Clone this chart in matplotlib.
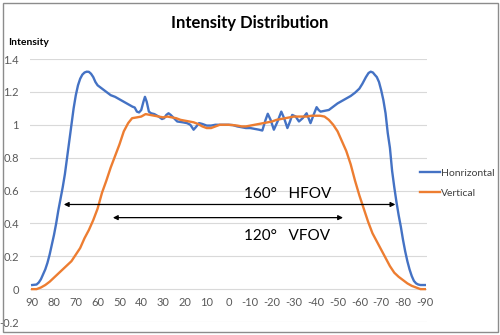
import matplotlib
matplotlib.use("Agg")
import matplotlib.pyplot as plt
from matplotlib.patches import Rectangle

plt.rcParams['font.family'] = ['Lato', 'DejaVu Sans']

# ---- data ----
h_angle = [90, 88, 87, 86, 85, 84, 83, 82, 81, 80, 79, 78, 77, 76, 75, 74, 73, 72, 71, 70,
           69, 68, 67, 66, 65, 64, 63, 62, 61, 60, 59, 58, 57, 56, 55, 54, 52, 50, 48, 46,
           44, 43, 42, 41, 40, 39, 38.3, 37.5, 36.5, 35.5, 34, 32, 30.5, 29.5, 28.5, 27.5,
           26.5, 25, 23.5, 21, 19, 17.5, 16, 15, 13.5, 12, 10, 8, 6, 4, 2, 0,
           -2, -4, -6, -8, -10, -12, -14, -15.5, -17, -18, -19.3, -20.8, -22.5, -24.2,
           -25.5, -27, -28.2, -29.2, -30.8, -32.3, -34, -35.8, -37.6, -39, -40.4, -41.3,
           -42.2, -44, -46, -48, -50, -52, -54, -56, -58, -60, -61.4, -63, -64.2, -65.2,
           -66.2, -67, -68, -69, -70, -71, -72, -73, -74, -75, -76, -77, -78, -79, -80,
           -81, -82, -83, -84, -85, -86, -87, -88, -90]
h_value = [0.025, 0.028, 0.04, 0.06, 0.09, 0.12, 0.16, 0.21, 0.27, 0.33, 0.40, 0.48, 0.55,
           0.62, 0.70, 0.80, 0.90, 1.00, 1.10, 1.18, 1.24, 1.28, 1.305, 1.318, 1.323, 1.322,
           1.31, 1.29, 1.26, 1.24, 1.23, 1.22, 1.21, 1.20, 1.19, 1.18, 1.17, 1.155, 1.14,
           1.125, 1.11, 1.105, 1.08, 1.075, 1.09, 1.14, 1.17, 1.14, 1.08, 1.07, 1.065, 1.05,
           1.035, 1.04, 1.06, 1.07, 1.06, 1.04, 1.02, 1.015, 1.01, 1.0, 0.97, 0.985, 1.01,
           1.005, 0.995, 0.995, 1.0, 1.0, 1.0, 1.0,
           0.998, 0.99, 0.985, 0.98, 0.98, 0.975, 0.97, 0.965, 1.03, 1.067, 1.03, 0.97, 1.02,
           1.08, 1.04, 0.98, 1.02, 1.06, 1.05, 1.02, 1.04, 1.07, 1.01, 1.06, 1.107, 1.09,
           1.08, 1.085, 1.09, 1.11, 1.13, 1.145, 1.16, 1.175, 1.195, 1.22, 1.25, 1.29, 1.315,
           1.323, 1.318, 1.305, 1.29, 1.26, 1.21, 1.15, 1.07, 0.95, 0.86, 0.72, 0.62, 0.53,
           0.45, 0.38, 0.30, 0.23, 0.17, 0.12, 0.08, 0.05, 0.035, 0.028, 0.025, 0.025]

v_angle = [90, 88, 87, 86, 84, 82, 80, 78, 76, 74, 72, 70, 68, 66, 64, 62, 60, 58, 56, 54,
           52, 50, 48, 46, 44.2, 42, 40, 38, 36, 34, 32, 30, 28, 26, 24, 22, 20, 18, 16, 14,
           12, 10, 8, 6, 4, 2, 0, -2, -4, -6, -8, -10, -12, -14, -16, -18, -20, -22, -24,
           -26, -28, -30, -32, -34, -36, -38, -40, -42, -44, -46, -48, -50, -52, -54, -56,
           -58, -60, -62, -64, -66, -68, -70, -72, -74, -76, -78, -80, -82, -84, -86, -88, -90]
v_value = [0.0, 0.0, 0.005, 0.01, 0.025, 0.045, 0.07, 0.095, 0.12, 0.145, 0.17, 0.21, 0.25,
           0.31, 0.36, 0.42, 0.49, 0.586, 0.66, 0.74, 0.81, 0.88, 0.96, 1.01, 1.04, 1.045,
           1.05, 1.065, 1.06, 1.055, 1.05, 1.045, 1.05, 1.045, 1.04, 1.03, 1.025, 1.02, 1.015,
           1.005, 0.99, 0.98, 0.98, 0.99, 1.0, 1.0, 1.0, 0.998, 0.995, 0.99, 0.99, 0.995, 1.0,
           1.005, 1.01, 1.015, 1.02, 1.03, 1.035, 1.04, 1.045, 1.05, 1.05, 1.05, 1.05, 1.055,
           1.055, 1.055, 1.05, 1.03, 1.0, 0.96, 0.90, 0.84, 0.76, 0.66, 0.57, 0.49, 0.41,
           0.34, 0.29, 0.24, 0.19, 0.14, 0.10, 0.075, 0.055, 0.035, 0.02, 0.01, 0.0, 0.0]

x_ticks = [90, 80, 70, 60, 50, 40, 30, 20, 10, 0, -10, -20, -30, -40, -50, -60, -70, -80, -90]
y_ticks = [-0.2, 0, 0.2, 0.4, 0.6, 0.8, 1, 1.2, 1.4]
y_ticklabels = ['-0.2', '0', '0.2', '0.4', '0.6', '0.8', '1', '1.2', '1.4']

hfov = (75.5, -76.5, 0.515)
vfov = (53, -52.5, 0.435)

# ---- figure ----
fig = plt.figure(figsize=(5, 3.35), dpi=100)
fig.patches.append(Rectangle((0.005, 0.008), 0.99, 0.984, transform=fig.transFigure,
                             fill=False, edgecolor='#8c8c8c', linewidth=1.0))

ax = fig.add_axes([0.06, 0.0388, 0.794, 0.785])
ax.set_xlim(91, -91)
ax.set_ylim(-0.2, 1.4)

for s in ax.spines.values():
    s.set_visible(False)
ax.spines['bottom'].set_position(('data', 0))

ax.set_yticks(y_ticks)
ax.set_yticklabels(y_ticklabels)
ax.set_xticks(x_ticks)
ax.set_xticklabels([str(t) for t in x_ticks])
ax.tick_params(axis='both', length=0, labelsize=8, labelcolor='#595959')
ax.tick_params(axis='y', pad=8)
ax.tick_params(axis='x', pad=6)
ax.grid(axis='y', color='#d9d9d9', linewidth=0.8)
ax.set_axisbelow(True)

ax.plot(h_angle, h_value, color='#4472c4', linewidth=1.7, label='Honrizontal')
ax.plot(v_angle, v_value, color='#ed7d31', linewidth=1.7, label='Vertical')

arrow_kw = dict(arrowstyle='<|-|>', color='black', lw=0.9, mutation_scale=7,
                shrinkA=0, shrinkB=0)
ax.annotate('', xy=(hfov[0], hfov[2]), xytext=(hfov[1], hfov[2]), arrowprops=arrow_kw)
ax.annotate('', xy=(vfov[0], vfov[2]), xytext=(vfov[1], vfov[2]), arrowprops=arrow_kw)

ax.text(-7, 0.578, '160°   HFOV', fontsize=11, ha='left', va='center', color='black')
ax.text(-7, 0.322, '120°   VFOV', fontsize=11, ha='left', va='center', color='black')

fig.text(0.5, 0.93, 'Intensity Distribution', ha='center', va='center',
         fontsize=12, fontweight='bold', color='black')
fig.text(0.016, 0.873, 'Intensity', ha='left', va='center', fontsize=7.5,
         fontweight='bold', color='black')

leg = ax.legend(loc='center left', bbox_to_anchor=(0.982, 0.528), frameon=False,
                fontsize=7.5, handlelength=1.9, handletextpad=0.1, labelspacing=1.0,
                borderpad=0, borderaxespad=0)
for t in leg.get_texts():
    t.set_color('#404040')

fig.savefig('out.png', dpi=100)
